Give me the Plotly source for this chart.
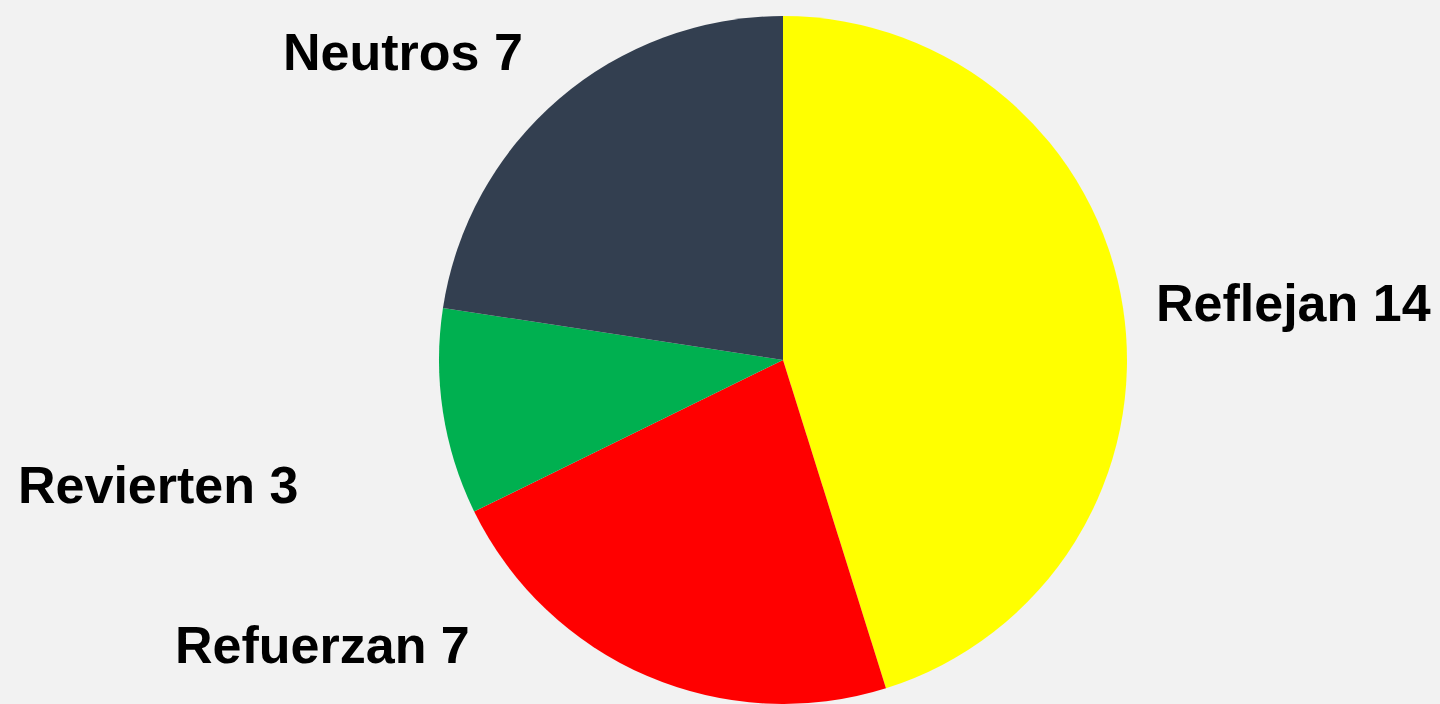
import plotly.graph_objects as go

labels = ["Reflejan", "Refuerzan", "Revierten", "Neutros"]
values = [14, 7, 3, 7]
colors = ["#FFFF00", "#FF0000", "#00B050", "#333F50"]

# where each outside label sits (pixel centre in the 1440x704 page)
label_px = [(1293, 303), (322, 645), (158, 485), (403, 52)]

W, H = 1440, 704
cx, cy, r = 783, 360, 344

fig = go.Figure(go.Pie(labels=labels, values=values,
                       sort=False, direction="clockwise", rotation=0,
                       marker=dict(colors=colors, line=dict(width=0)),
                       textinfo="none", hoverinfo="label+value",
                       domain=dict(x=[(cx - r) / W, (cx + r) / W],
                                   y=[max(0, (H - cy - r) / H), min(1, (H - cy + r) / H)])))

for lab, val, (px_, py_) in zip(labels, values, label_px):
   fig.add_annotation(x=px_ / W, y=1 - py_ / H, xref="paper", yref="paper",
                      text=f"<b>{lab} {val}</b>", showarrow=False,
                      xanchor="center", yanchor="middle",
                      font=dict(family="Liberation Sans, Arial", size=52, color="black"))

fig.update_layout(width=W, height=H, margin=dict(l=0, r=0, t=0, b=0),
                  paper_bgcolor="#F2F2F2", plot_bgcolor="#F2F2F2",
                  showlegend=False)

# drop the default page margin so the figure sits flush in the window
fig.write_html("out.html", config={"displayModeBar": False},
               post_script="document.body.style.margin='0';document.body.style.background='#F2F2F2';")
